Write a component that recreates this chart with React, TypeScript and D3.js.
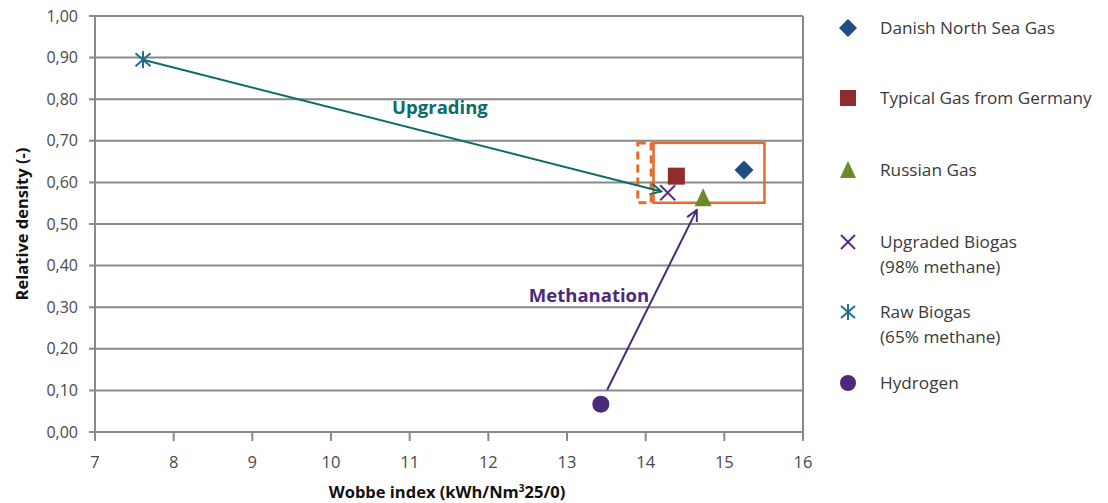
import React from "react";
import * as d3 from "d3";

const W = 1108;
const H = 503;

const xTicks = [7, 8, 9, 10, 11, 12, 13, 14, 15, 16];
const yTicks = [0, 0.1, 0.2, 0.3, 0.4, 0.5, 0.6, 0.7, 0.8, 0.9, 1.0];

const seriesNames = [
  "Danish North Sea Gas",
  "Typical Gas from Germany",
  "Russian Gas",
  "Upgraded Biogas|(98% methane)",
  "Raw Biogas|(65% methane)",
  "Hydrogen",
];
const seriesShapes = ["diamond", "square", "triangle", "x", "asterisk", "circle"];
const seriesColors = ["#1f4e87", "#922b2b", "#6b8a2a", "#5a2d82", "#1f6e8c", "#4b2a7b"];
const wobbeValues = [15.25, 14.39, 14.73, 14.28, 7.61, 13.43];
const densityValues = [0.63, 0.615, 0.563, 0.575, 0.895, 0.067];

const boxX = [14.1, 15.51];
const boxY = [0.551, 0.695];
const dashBoxX = [13.9, 14.07];

const arrowNames = ["Upgrading", "Methanation"];
const arrowColors = ["#0d6b68", "#4b2a7b"];
const arrowFrom = [[7.61, 0.895], [13.51, 0.101]];
const arrowTo = [[14.2, 0.578], [14.65, 0.534]];
const arrowLabelPos = [[11.385, 0.779], [13.28, 0.329]];

const margin = { left: 95, right: 305, top: 16, bottom: 71 };

function Marker({ shape, color, cx, cy, s }: { shape: string; color: string; cx: number; cy: number; s: number }) {
  const h = s / 2;
  switch (shape) {
    case "diamond":
      return <path d={`M${cx},${cy - h - 1} L${cx + h + 1},${cy} L${cx},${cy + h + 1} L${cx - h - 1},${cy} Z`} fill={color} />;
    case "square":
      return <rect x={cx - h} y={cy - h} width={s} height={s} fill={color} />;
    case "triangle":
      return <path d={`M${cx},${cy - h - 1} L${cx + h},${cy + h} L${cx - h},${cy + h} Z`} fill={color} />;
    case "x":
      return (
        <g stroke={color} strokeWidth={2}>
          <line x1={cx - h + 1} y1={cy - h + 1} x2={cx + h - 1} y2={cy + h - 1} />
          <line x1={cx - h + 1} y1={cy + h - 1} x2={cx + h - 1} y2={cy - h + 1} />
        </g>
      );
    case "asterisk":
      return (
        <g stroke={color} strokeWidth={2}>
          <line x1={cx - h + 1} y1={cy - h + 2} x2={cx + h - 1} y2={cy + h - 2} />
          <line x1={cx - h + 1} y1={cy + h - 2} x2={cx + h - 1} y2={cy - h + 2} />
          <line x1={cx} y1={cy - h} x2={cx} y2={cy + h} />
        </g>
      );
    default:
      return <circle cx={cx} cy={cy} r={h} fill={color} />;
  }
}

export default function App() {
  const x = d3.scaleLinear().domain([7, 16]).range([margin.left, W - margin.right]);
  const y = d3.scaleLinear().domain([0, 1]).range([H - margin.bottom, margin.top]);
  const fmt = (v: number) => d3.format(".2f")(v).replace(".", ",");
  const font = "'Open Sans', 'Noto Sans', sans-serif";
  const grid = "#898989";
  const orange = "#e46c2a";

  const legendY = [28, 98, 170, 242, 312, 383];

  return (
    <svg width={W} height={H} style={{ position: "absolute", left: 0, top: 0, background: "#fff" }} fontFamily={font}>
      <defs>
        {arrowColors.map((c, i) => (
          <marker key={i} id={`arr${i}`} viewBox="0 0 12 12" refX={11} refY={6} markerWidth={13} markerHeight={13} markerUnits="userSpaceOnUse" orient="auto">
            <path d="M1,1 L11,6 L1,11" fill="none" stroke={c} strokeWidth={1.8} />
          </marker>
        ))}
      </defs>

      {yTicks.map((t) => (
        <g key={t}>
          <line x1={x(7) - 6} x2={x(16)} y1={y(t)} y2={y(t)} stroke={grid} strokeWidth={2} />
          <text x={78} y={y(t)} dy="0.35em" textAnchor="end" fontSize={16} fill="#4a4a4a">
            {fmt(t)}
          </text>
        </g>
      ))}
      <line x1={x(7)} x2={x(7)} y1={y(1)} y2={y(0) + 9} stroke={grid} strokeWidth={2} />
      <line x1={x(16)} x2={x(16)} y1={y(1)} y2={y(0) + 9} stroke={grid} strokeWidth={2} />
      {xTicks.map((t) => (
        <g key={t}>
          <line x1={x(t)} x2={x(t)} y1={y(0)} y2={y(0) + 9} stroke={grid} strokeWidth={2} />
          <text x={x(t)} y={462} dy="0.35em" textAnchor="middle" fontSize={16.5} fill="#4a4a4a">
            {t}
          </text>
        </g>
      ))}

      <text x={447} y={492} dy="0.35em" textAnchor="middle" fontSize={16.5} fontWeight={700} fill="#111">
        Wobbe index (kWh/Nm<tspan dy="-6" fontSize={10}>3</tspan>
        <tspan dy="6">25/0)</tspan>
      </text>
      <text transform={`translate(22,${y(0.5)}) rotate(-90)`} dy="0.35em" textAnchor="middle" fontSize={16.5} fontWeight={700} fill="#111">
        Relative density (-)
      </text>

      <rect x={x(boxX[0])} y={y(boxY[1])} width={x(boxX[1]) - x(boxX[0])} height={y(boxY[0]) - y(boxY[1])} fill="none" stroke={orange} strokeWidth={2.5} />
      <rect x={x(dashBoxX[0])} y={y(boxY[1])} width={x(dashBoxX[1]) - x(dashBoxX[0])} height={y(boxY[0]) - y(boxY[1])} fill="none" stroke={orange} strokeWidth={3} strokeDasharray="8,5" />

      {seriesNames.map((n, i) => (
        <Marker key={n} shape={seriesShapes[i]} color={seriesColors[i]} cx={x(wobbeValues[i])} cy={y(densityValues[i])} s={17} />
      ))}

      {arrowNames.map((n, i) => (
        <g key={n}>
          <line x1={x(arrowFrom[i][0])} y1={y(arrowFrom[i][1])} x2={x(arrowTo[i][0])} y2={y(arrowTo[i][1])} stroke={arrowColors[i]} strokeWidth={2} markerEnd={`url(#arr${i})`} />
          <text x={x(arrowLabelPos[i][0])} y={y(arrowLabelPos[i][1])} dy="0.35em" textAnchor="middle" fontSize={18.5} fontWeight={700} fill={arrowColors[i]}>
            {n}
          </text>
        </g>
      ))}

      {seriesNames.map((n, i) => {
        const lines = n.split("|");
        return (
          <g key={n}>
            <Marker shape={seriesShapes[i]} color={seriesColors[i]} cx={848} cy={legendY[i]} s={16} />
            {lines.map((l, j) => (
              <text key={j} x={880} y={legendY[i] + j * 25} dy="0.35em" fontSize={17.2} fill="#3a3a3a">
                {l}
              </text>
            ))}
          </g>
        );
      })}
    </svg>
  );
}
